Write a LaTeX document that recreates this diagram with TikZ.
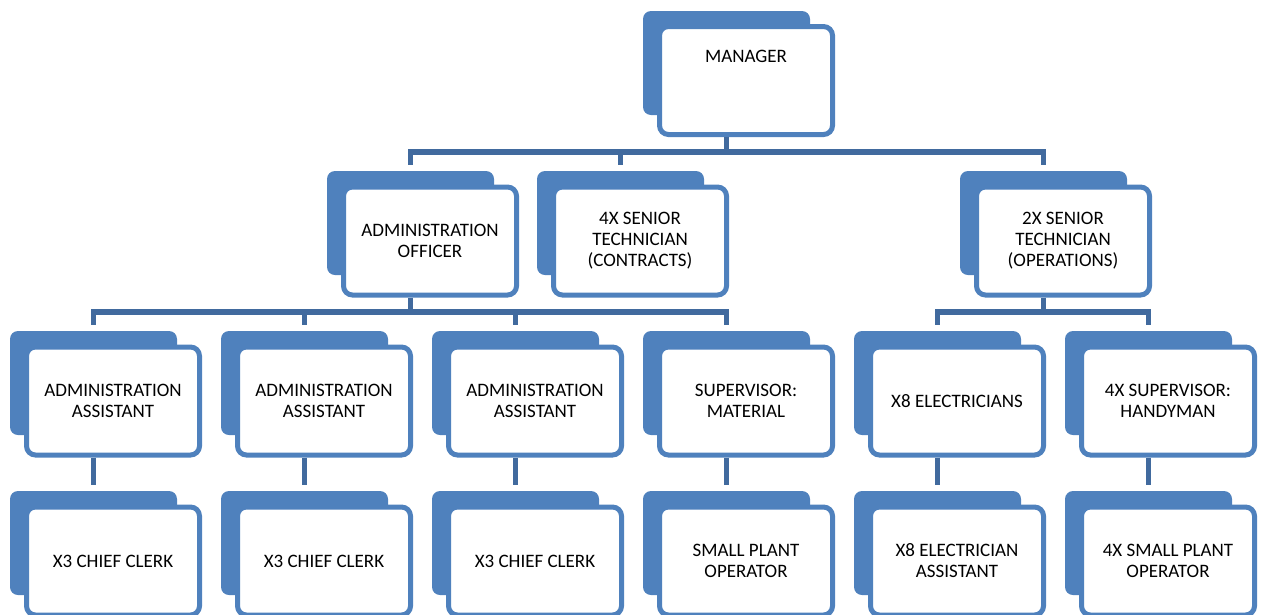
\documentclass[tikz,border=0pt]{standalone}
\usepackage{fontspec}
\setmainfont{Carlito}
\usepackage{xcolor}
\usepackage{tikz}
\definecolor{cardblue}{RGB}{79,129,189}
\definecolor{linkblue}{RGB}{65,106,158}

\begin{document}
\begin{tikzpicture}[x=1pt,y=-1pt,
    backcard/.style={fill=cardblue, rounded corners=8pt, minimum width=167pt, minimum height=104pt, inner sep=0pt},
    frontcard/.style={draw=cardblue, fill=white, line width=5pt, rounded corners=9pt, minimum width=173pt, minimum height=108pt, inner sep=0pt, align=center, font=\fontsize{19}{21}\selectfont},
    link/.style={draw=linkblue, line width=5.5pt}]
      \clip (0,0) rectangle (1265,614);
      \coordinate (bus0) at (0,152);
      \coordinate (bus1) at (0,312);
      \node[backcard] (Mb) at (726.5,63) {};
      \node[frontcard, label={[anchor=north, inner sep=0pt, yshift=-26pt, font=\fontsize{19}{21}\selectfont]north:MANAGER}] (M) at (746,80.5) {};
      \node[backcard] (Ob) at (410.5,223) {};
      \node[frontcard] (O) at (430,241) {ADMINISTRATION\\OFFICER};
      \node[backcard] (Cb) at (620.5,223) {};
      \node[frontcard] (C) at (640,241) {4X SENIOR\\TECHNICIAN\\(CONTRACTS)};
      \node[backcard] (Pb) at (1043.5,223) {};
      \node[frontcard] (P) at (1063,241) {2X SENIOR\\TECHNICIAN\\(OPERATIONS)};
      \node[backcard] (A1b) at (93.5,383) {};
      \node[frontcard] (A1) at (113,401) {ADMINISTRATION\\ASSISTANT};
      \node[backcard] (A2b) at (304.5,383) {};
      \node[frontcard] (A2) at (324,401) {ADMINISTRATION\\ASSISTANT};
      \node[backcard] (A3b) at (515.5,383) {};
      \node[frontcard] (A3) at (535,401) {ADMINISTRATION\\ASSISTANT};
      \node[backcard] (Sb) at (726.5,383) {};
      \node[frontcard] (S) at (746,401) {SUPERVISOR:\\MATERIAL};
      \node[backcard] (Eb) at (937.5,383) {};
      \node[frontcard] (E) at (957,401) {X8 ELECTRICIANS};
      \node[backcard] (Hb) at (1148.5,383) {};
      \node[frontcard] (H) at (1168,401) {4X SUPERVISOR:\\HANDYMAN};
      \node[backcard] (K1b) at (93.5,543) {};
      \node[frontcard] (K1) at (113,561) {X3 CHIEF CLERK};
      \node[backcard] (K2b) at (304.5,543) {};
      \node[frontcard] (K2) at (324,561) {X3 CHIEF CLERK};
      \node[backcard] (K3b) at (515.5,543) {};
      \node[frontcard] (K3) at (535,561) {X3 CHIEF CLERK};
      \node[backcard] (Lb) at (726.5,543) {};
      \node[frontcard] (L) at (746,561) {SMALL PLANT\\OPERATOR};
      \node[backcard] (Fb) at (937.5,543) {};
      \node[frontcard] (F) at (957,561) {X8 ELECTRICIAN\\ASSISTANT};
      \node[backcard] (Gb) at (1148.5,543) {};
      \node[frontcard] (G) at (1168,561) {4X SMALL PLANT\\OPERATOR};
      \draw[link] (Mb |- M.south) -- (Mb |- bus0);
      \draw[link] (Mb |- bus0) -| ([yshift=6pt]Ob.north);
      \draw[link] (Mb |- bus0) -| ([yshift=6pt]Cb.north);
      \draw[link] (Mb |- bus0) -| ([yshift=6pt]Pb.north);
      \draw[link] (Ob |- O.south) -- (Ob |- bus1);
      \draw[link] (Ob |- bus1) -| ([yshift=6pt]A1b.north);
      \draw[link] (Ob |- bus1) -| ([yshift=6pt]A2b.north);
      \draw[link] (Ob |- bus1) -| ([yshift=6pt]A3b.north);
      \draw[link] (Ob |- bus1) -| ([yshift=6pt]Sb.north);
      \draw[link] (Pb |- P.south) -- (Pb |- bus1);
      \draw[link] (Pb |- bus1) -| ([yshift=6pt]Eb.north);
      \draw[link] (Pb |- bus1) -| ([yshift=6pt]Hb.north);
      \draw[link] (A1b |- A1.south) -- ([yshift=6pt]K1b.north);
      \draw[link] (A2b |- A2.south) -- ([yshift=6pt]K2b.north);
      \draw[link] (A3b |- A3.south) -- ([yshift=6pt]K3b.north);
      \draw[link] (Sb |- S.south) -- ([yshift=6pt]Lb.north);
      \draw[link] (Eb |- E.south) -- ([yshift=6pt]Fb.north);
      \draw[link] (Hb |- H.south) -- ([yshift=6pt]Gb.north);
    \end{tikzpicture}
\end{document}
